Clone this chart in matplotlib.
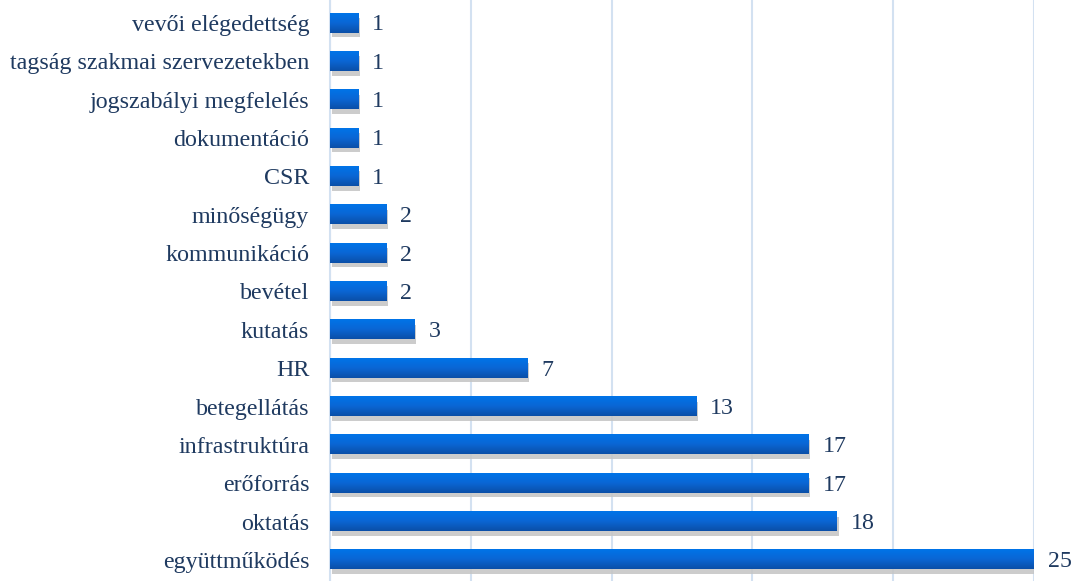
import matplotlib
matplotlib.use("Agg")
import matplotlib.pyplot as plt
import numpy as np
from matplotlib.colors import LinearSegmentedColormap

categories = ["vevői elégedettség", "tagság szakmai szervezetekben", "jogszabályi megfelelés",
              "dokumentáció", "CSR", "minőségügy", "kommunikáció", "bevétel", "kutatás", "HR",
              "betegellátás", "infrastruktúra", "erőforrás", "oktatás", "együttműködés"]
values = [1, 1, 1, 1, 1, 2, 2, 2, 3, 7, 13, 17, 17, 18, 25]

plt.rcParams['font.family'] = ['Liberation Serif', 'DejaVu Serif']
text_color = "#1F3A60"

fig = plt.figure(figsize=(10.77, 5.81), dpi=100)
ax = fig.add_axes([330/1077, 0.0, (1034-330)/1077, 1.0])

n = len(categories)
ys = np.arange(n)
h = 0.5
cmap = LinearSegmentedColormap.from_list("g", ["#0074E8", "#0A66D4", "#0B4FA8"])
grad = np.linspace(0, 1, 64).reshape(-1, 1)

for y, v in zip(ys, values):
    # shadow
    ax.add_patch(plt.Rectangle((0.06, y - h/2 + 0.12), v, h, color="#C4C4C4", alpha=0.85, lw=0, zorder=2))
    ax.imshow(grad, extent=(0, v, y + h/2, y - h/2), cmap=cmap, aspect="auto", zorder=3,
              interpolation="bilinear", origin="upper")
    ax.text(v + 0.5, y + 0.05, str(v), va="center", ha="left", fontsize=17.2, color=text_color)

ax.set_xlim(0, 25)
ax.set_ylim(n - 0.45, -0.6)
ax.set_yticks(ys)
ax.set_yticklabels(categories, fontsize=17.3, color=text_color)
ax.tick_params(axis="y", length=0, pad=15)
ax.set_xticks(np.arange(0, 26, 5))
ax.tick_params(axis="x", length=0, labelbottom=False)
ax.grid(axis="x", color="#D3E1F1", lw=1.5, zorder=0)
ax.set_axisbelow(True)
for s in ["top", "right", "bottom"]:
    ax.spines[s].set_visible(False)
ax.spines["left"].set_color("#D3E1F1")
ax.spines["left"].set_linewidth(1.5)

fig.savefig("out.png", dpi=100)
